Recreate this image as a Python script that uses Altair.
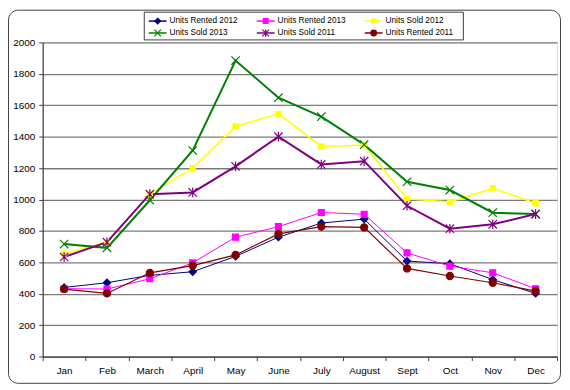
import altair as alt
import pandas as pd

months = ["Jan", "Feb", "March", "April", "May", "June", "July",
          "August", "Sept", "Oct", "Nov", "Dec"]

series = ["Units Rented 2012", "Units Rented 2013", "Units Sold 2012",
          "Units Sold 2013", "Units Sold 2011", "Units Rented 2011"]
legend_col = [0, 1, 2, 0, 1, 2]
legend_row = [0, 0, 0, 1, 1, 1]

rented_2012 = [440, 470, 517, 540, 638, 760, 850, 875, 608, 591, 490, 402]
rented_2013 = [432, 430, 495, 597, 760, 827, 917, 906, 660, 576, 533, 432]
sold_2012 = [655, 728, 1035, 1200, 1465, 1545, 1338, 1346, 1004, 984, 1072, 976]
sold_2013 = [716, 692, 995, 1312, 1884, 1648, 1527, 1349, 1113, 1060, 916, 907]
sold_2011 = [634, 728, 1034, 1045, 1211, 1400, 1223, 1244, 960, 814, 842, 907]
rented_2011 = [429, 402, 533, 579, 647, 781, 827, 822, 561, 513, 470, 417]

colors = ["#000080", "#FF00FF", "#FFFF00", "#008000", "#800080", "#800000"]
line_widths = [1, 1, 1.5, 2, 2, 1.2]
marker_kinds = ["diamond", "square", "square", "x", "star", "circle"]
marker_r = [0.9, 0.75, 0.65, 1.05, 1.05, 0.9]

values = [rented_2012, rented_2013, sold_2012, sold_2013, sold_2011, rented_2011]

rows = []
for s, vals in zip(series, values):
    for m, v in zip(months, vals):
        rows.append({"month": m, "series": s, "value": v})
df = pd.DataFrame(rows)

leg_df = pd.DataFrame({"series": series, "col": legend_col, "row": legend_row})

FONT = "Liberation Sans"


def marker_path(kind, r):
    r = round(r, 3)
    if kind == "diamond":
        return f"M0,{-r}L{r},0L0,{r}L{-r},0Z"
    if kind == "square":
        return f"M{-r},{-r}H{r}V{r}H{-r}Z"
    if kind == "x":
        return f"M{-r},{-r}L{r},{r}M{-r},{r}L{r},{-r}"
    if kind == "star":
        q = round(r * 1.15, 3)
        return f"M{-r},{-r}L{r},{r}M{-r},{r}L{r},{-r}M0,{-q}V{q}"
    return f"M{r},0A{r},{r},0,1,1,{-r},0A{r},{r},0,1,1,{r},0Z"


chart_shapes = [marker_path(k, r) for k, r in zip(marker_kinds, marker_r)]
legend_shapes = [marker_path(k, r * 0.8) for k, r in zip(marker_kinds, marker_r)]

x_enc = alt.X(
    "month:N", sort=months, bandPosition=0.5,
    scale=alt.Scale(type="band", paddingInner=0, paddingOuter=0),
    axis=alt.Axis(title=None, labelAngle=0, tickBand="extent", grid=False,
                  labelFont=FONT, labelFontSize=10, labelColor="black",
                  labelPadding=5, tickSize=4, tickColor="#404040",
                  domainColor="#404040", domainWidth=1.2),
)
y_enc = alt.Y(
    "value:Q",
    scale=alt.Scale(domain=[0, 2000], nice=False),
    axis=alt.Axis(title=None, values=list(range(0, 2001, 200)), format="d",
                  grid=True, gridColor="#7a7a7a", gridWidth=1.3,
                  labelFont=FONT, labelFontSize=10, labelColor="black",
                  labelPadding=4, tickSize=4, tickColor="#404040",
                  domainColor="#404040", domainWidth=1.2),
)

fill_enc = alt.Fill("series:N", scale=alt.Scale(domain=series, range=colors), legend=None)
stroke_enc = alt.Stroke("series:N", scale=alt.Scale(domain=series, range=colors), legend=None)

base = alt.Chart(df)

frame = alt.Chart(pd.DataFrame({"f": [0]})).mark_rect(
    fill="transparent", stroke="#404040", strokeWidth=1, cornerRadius=10
).encode(
    x=alt.value(-34.5), x2=alt.value(522.5),
    y=alt.value(-32.5), y2=alt.value(344),
)

line_layers = []
for s, c, w in zip(series, colors, line_widths):
    line_layers.append(
        base.transform_filter(alt.datum.series == s)
        .mark_line(color=c, strokeWidth=w)
        .encode(x=x_enc, y=y_enc)
    )

points = base.mark_point(size=64, strokeWidth=1.2, opacity=1, filled=True).encode(
    x=x_enc,
    y=y_enc,
    fill=fill_enc,
    stroke=stroke_enc,
    shape=alt.Shape("series:N",
                    scale=alt.Scale(domain=series, range=chart_shapes),
                    legend=None),
)

main = alt.layer(frame, *line_layers, points)

# ---- legend drawn as its own layer ----
lx = alt.X("col:Q", scale=alt.Scale(domain=[0, 2], range=[107, 325]), axis=None)
ly = alt.Y("row:Q", scale=alt.Scale(domain=[0, 1], range=[-21.5, -9.5]), axis=None)
leg_base = alt.Chart(leg_df)

leg_box = alt.Chart(pd.DataFrame({"f": [0]})).mark_rect(
    fill="white", stroke="#404040", strokeWidth=1
).encode(
    x=alt.value(102.5), x2=alt.value(424.5),
    y=alt.value(-30.5), y2=alt.value(-2.5),
)
leg_lines = leg_base.mark_tick(orient="horizontal", size=18, thickness=1.5,
                               xOffset=9, opacity=1).encode(
    x=lx, y=ly, fill=fill_enc,
)
leg_pts = leg_base.mark_point(size=64, strokeWidth=1.2, opacity=1, filled=True,
                              xOffset=9).encode(
    x=lx, y=ly, fill=fill_enc, stroke=stroke_enc,
    shape=alt.Shape("series:N",
                    scale=alt.Scale(domain=series, range=legend_shapes),
                    legend=None),
)
leg_text = leg_base.mark_text(align="left", baseline="middle", dx=21,
                              font=FONT, fontSize=8.3, color="black").encode(
    x=lx, y=ly, text="series:N",
)
legend_chart = alt.layer(leg_box, leg_lines, leg_pts, leg_text)

chart = alt.layer(main, legend_chart).resolve_scale(
    x="independent", y="independent", shape="independent"
).properties(
    width=519, height=317,
    padding={"left": 35, "top": 33, "right": 5, "bottom": 28},
    autosize=alt.AutoSizeParams(type="none"),
).configure_view(
    fill="#C0C0C0", stroke="#909090", strokeWidth=1
).configure(background="white")

chart.save("out.html", embed_options={"renderer": "svg", "actions": False})
